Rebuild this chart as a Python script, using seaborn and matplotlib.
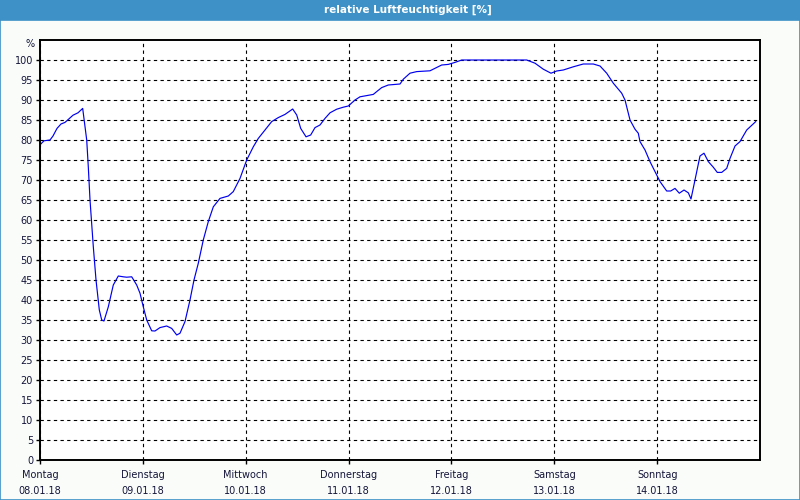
import matplotlib
matplotlib.use("Agg")
import matplotlib.pyplot as plt
from matplotlib.patches import Rectangle
import seaborn as sns
import pandas as pd

# hours since Monday 08.01.18 00:00
hours = [0.0, 0.93, 2.33, 3.03, 3.97, 4.9, 5.83, 6.77, 7.7, 8.87, 9.96, 10.9, 11.27, 11.67,
         12.44, 13.07, 13.84, 14.4, 14.93, 15.94, 17.1, 18.27, 19.44, 20.23, 21.4, 22.56,
         23.33, 24.1, 24.9, 26.06, 26.83, 28.0, 29.56, 30.73, 31.9, 32.67, 33.83, 35.0,
         35.93, 36.94, 38.1, 39.27, 40.44, 42.0, 43.94, 45.1, 46.67, 48.23, 49.77, 50.94,
         52.5, 54.06, 55.6, 57.17, 58.96, 59.9, 60.83, 62.07, 63.16, 64.17, 65.33, 66.5,
         67.67, 69.23, 70.77, 71.94, 73.5, 74.67, 76.23, 77.77, 78.56, 79.73, 81.27, 84.0,
         84.77, 86.33, 87.9, 91.0, 93.73, 95.27, 96.83, 98.4, 113.56, 115.5, 117.44,
         119.23, 120.56, 122.1, 124.44, 126.77, 129.1, 130.67, 132.23, 133.77, 135.73,
         136.5, 137.67, 138.83, 139.6, 140.0, 141.17, 142.33, 143.5, 144.67, 146.23,
         147.16, 148.17, 149.17, 150.27, 151.27, 151.9, 152.83, 154.0, 154.93, 155.94,
         157.1, 158.03, 159.06, 160.23, 161.0, 162.17, 163.33, 164.9, 167.0]
humidity = [78.8, 79.8, 80.0, 81.0, 82.9, 84.0, 84.4, 85.3, 86.2, 86.8, 87.9, 80.0, 73.3, 65.0,
            53.3, 45.0, 37.5, 35.0, 34.75, 38.3, 43.75, 46.0, 45.8, 45.7, 45.8, 43.75,
            41.7, 38.3, 35.0, 32.3, 32.25, 33.1, 33.5, 32.9, 31.25, 31.7, 34.6, 40.0,
            45.0, 49.2, 55.0, 59.6, 63.3, 65.4, 66.0, 67.1, 70.4, 75.0, 78.3, 80.4,
            82.5, 84.6, 85.6, 86.4, 87.75, 86.25, 82.9, 80.8, 81.25, 83.1, 83.75, 85.4,
            86.8, 87.7, 88.2, 88.5, 90.0, 90.8, 91.1, 91.4, 92.1, 93.1, 93.75, 94.0,
            95.2, 96.7, 97.1, 97.3, 98.75, 98.9, 99.4, 100.0, 100.0, 99.2, 97.7,
            96.7, 97.25, 97.5, 98.3, 99.0, 99.0, 98.5, 96.7, 94.2, 91.7,
            90.0, 85.0, 82.7, 81.7, 79.6, 77.5, 74.6, 72.1, 69.6, 67.25,
            67.25, 67.9, 66.7, 67.5, 66.8, 65.25, 70.0, 76.0, 76.7, 74.6,
            73.2, 71.9, 71.9, 72.9, 75.4, 78.5, 79.6, 82.5, 84.6]

day_names = ["Montag", "Dienstag", "Mittwoch", "Donnerstag", "Freitag", "Samstag", "Sonntag"]
day_dates = ["08.01.18", "09.01.18", "10.01.18", "11.01.18", "12.01.18", "13.01.18", "14.01.18"]
day_ticks = [0, 24, 48, 72, 96, 120, 144]
y_ticks = list(range(0, 101, 5))
title = "relative Luftfeuchtigkeit [%]"

df = pd.DataFrame({"h": hours, "rh": humidity})

fig = plt.figure(figsize=(8, 5), dpi=100, facecolor="#f9fcf9")
ax = fig.add_axes([0.05, 0.08, 0.90, 0.84])
ax.set_facecolor("white")

sns.lineplot(data=df, x="h", y="rh", ax=ax, color="#0000ee", linewidth=0.85)

ax.set_xlim(0, 168)
ax.set_ylim(0, 105)
ax.set_xticks(day_ticks)
ax.set_xticklabels([f"{n}\n{d}" for n, d in zip(day_names, day_dates)],
                   fontsize=7, color="#15153a", linespacing=1.75)
ax.set_yticks(y_ticks)
ax.set_yticklabels([str(v) for v in y_ticks], fontsize=7, color="#15153a")
ax.tick_params(axis="both", length=3, width=1, color="black", pad=2)
ax.tick_params(axis="x", pad=4)
ax.set_xlabel("")
ax.set_ylabel("")

ax.grid(True, color="black", linestyle=(0, (3, 3)), linewidth=0.8)
for s in ax.spines.values():
    s.set_color("black")
    s.set_linewidth(1.4)

ax.annotate("%", xy=(-0.008, 104), xycoords=("axes fraction", "data"),
            ha="right", va="center", fontsize=7, color="#15153a")

# title bar and window border
fig.patches.append(Rectangle((0, 0.96), 1, 0.04, transform=fig.transFigure,
                             facecolor="#3d91c6", edgecolor="none", zorder=0))
fig.text(0.51, 0.981, title, ha="center", va="center", color="white",
         fontsize=7.5, fontweight="bold")
fig.patches.append(Rectangle((0.0006, 0.001), 0.9988, 0.96, transform=fig.transFigure,
                             facecolor="none", edgecolor="#3d91c6", linewidth=1.2, zorder=0))

fig.savefig("out.png", dpi=100, facecolor=fig.get_facecolor())
